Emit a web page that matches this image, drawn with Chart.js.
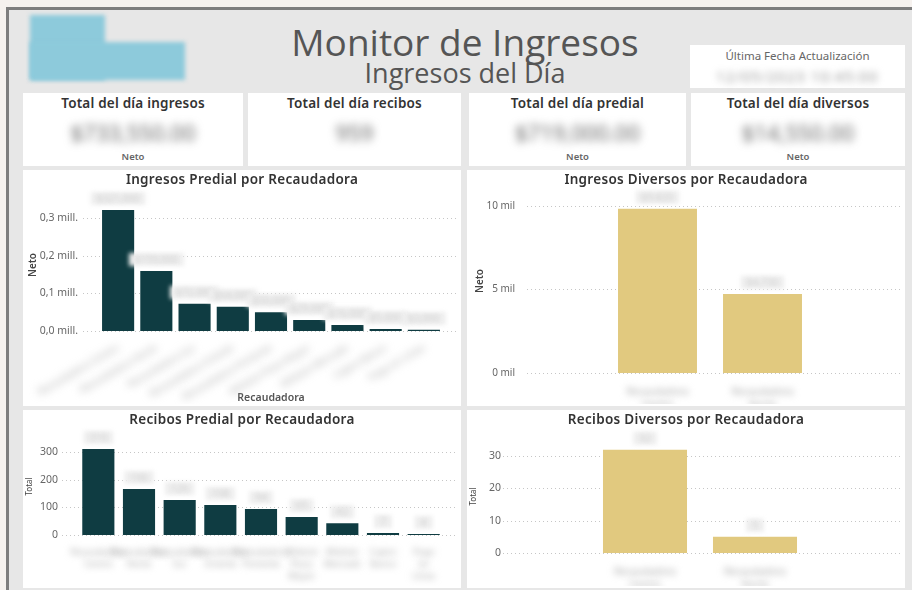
<!DOCTYPE html>
<html lang="es">
<head>
<meta charset="utf-8">
<title>Monitor de Ingresos</title>
<script src="https://cdn.jsdelivr.net/npm/chart.js@4.4.1/dist/chart.umd.min.js"></script>
<style>
    body { margin: 0; width: 912px; height: 590px; overflow: hidden; background: #f6f2ef; font-family: "Noto Sans", sans-serif; position: relative; }
    .abs { position: absolute; }
    #frame { left: 6px; top: 7px; width: 920px; height: 600px; border-left: 3px solid #7e7e7e; border-top: 3px solid #7e7e7e; background: #e7e7e7; }
    .logo { background: #8dcadb; filter: blur(2px); }
    #titulo { left: 215px; width: 500px; top: 19px; text-align: center; font-family: "Open Sans", sans-serif; font-size: 37px; color: #555; line-height: 46px; }
    #subtitulo { left: 265px; width: 400px; top: 55px; text-align: center; font-family: "Open Sans", sans-serif; font-size: 27px; color: #555; line-height: 36px; }
    #fecha { left: 690px; top: 45px; width: 215px; height: 43px; background: #fff; }
    #fecha .lbl { position: absolute; left: 0; width: 215px; top: 3px; text-align: center; font-size: 11.5px; color: #666; }
    #fecha .val { position: absolute; left: 26px; top: 21px; font-size: 15px; color: #999; filter: blur(3.5px); letter-spacing: 1px; }
    .card { background: #fff; top: 93px; height: 73px; }
    .card .t { position: absolute; left: 0; right: 0; top: 1px; text-align: center; font-size: 13.5px; font-weight: 600; color: #333; letter-spacing: 0.2px; }
    .card .v { position: absolute; left: 0; right: 0; top: 24px; text-align: center; font-size: 22px; color: #666; filter: blur(4.5px); }
    .card .n { position: absolute; left: 0; right: 0; top: 57px; text-align: center; font-size: 9.5px; font-weight: 600; color: #666; }
    .panel { background: #fff; }
    .panel .t { position: absolute; left: 0; right: 0; top: 0; text-align: center; font-size: 13.5px; font-weight: 600; color: #333; letter-spacing: 0.3px; z-index: 2; }
    .panel canvas { position: absolute; left: 0; top: 0; }
</style>
</head>
<body>
<div id="frame" class="abs"></div>
<div class="abs logo" style="left:30px; top:15px; width:75px; height:65px;"></div>
<div class="abs logo" style="left:30px; top:42px; width:155px; height:38px;"></div>
<div id="titulo" class="abs">Monitor de Ingresos</div>
<div id="subtitulo" class="abs">Ingresos del Día</div>
<div id="fecha" class="abs"><div class="lbl">Última Fecha Actualización</div><div class="val">12/05/2023 10:45:00</div></div>

<div class="abs card" style="left:23px; width:220px;"><div class="t">Total del día ingresos</div><div class="v">$733,550.00</div><div class="n">Neto</div></div>
<div class="abs card" style="left:248px; width:213px;"><div class="t">Total del día recibos</div><div class="v">959</div></div>
<div class="abs card" style="left:469px; width:217px;"><div class="t">Total del día predial</div><div class="v">$719,000.00</div><div class="n">Neto</div></div>
<div class="abs card" style="left:691px; width:214px;"><div class="t">Total del día diversos</div><div class="v">$14,550.00</div><div class="n">Neto</div></div>

<div class="abs panel" style="left:23px; top:170px; width:438px; height:236px;">
    <div class="t">Ingresos Predial por Recaudadora</div>
    <canvas id="chartIngresosPredial" width="438" height="236"></canvas>
</div>
<div class="abs panel" style="left:467px; top:170px; width:438px; height:236px;">
    <div class="t">Ingresos Diversos por Recaudadora</div>
    <canvas id="chartIngresosDiversos" width="438" height="236"></canvas>
</div>
<div class="abs panel" style="left:23px; top:410px; width:438px; height:178px;">
    <div class="t">Recibos Predial por Recaudadora</div>
    <canvas id="chartRecibosPredial" width="438" height="178"></canvas>
</div>
<div class="abs panel" style="left:467px; top:410px; width:438px; height:178px;">
    <div class="t">Recibos Diversos por Recaudadora</div>
    <canvas id="chartRecibosDiversos" width="438" height="178"></canvas>
</div>

<script>
const recaudadorasPredial = [
    'Recaudadora Centro', 'Recaudadora Norte', 'Recaudadora Sur',
    'Recaudadora Oriente', 'Recaudadora Poniente', 'Módulo Plaza Mayor',
    'Módulo Mercado', 'Cajero Banco', 'Pago en Línea'
];
const netoPredial = [321000, 159000, 72000, 64000, 50000, 29000, 16000, 5000, 3000];
const recibosPredial = [310, 166, 126, 108, 94, 65, 42, 7, 4];

const recaudadorasDiversos = ['Recaudadora Centro', 'Recaudadora Norte'];
const netoDiversos = [9820, 4730];
const recibosDiversos = [32, 5];

const COLOR_PREDIAL = '#0f3c42';
const COLOR_DIVERSOS = '#e1c97f';

Chart.defaults.font.family = '"Noto Sans", sans-serif';
Chart.defaults.animation = false;

// Lineas punteadas, etiquetas de datos difuminadas y etiquetas del eje X difuminadas
const blurPlugin = {
    id: 'blurLabels',
    beforeDatasetsDraw(chart, args, opts) {
        const y = chart.scales.y;
        const ctx = chart.ctx;
        ctx.save();
        ctx.strokeStyle = '#c6c6c6';
        ctx.lineWidth = 1;
        ctx.setLineDash([1, 3]);
        y.ticks.forEach(t => {
            const py = Math.round(y.getPixelForValue(t.value)) + 0.5;
            ctx.beginPath();
            ctx.moveTo(opts.gridFrom, py);
            ctx.lineTo(opts.gridTo, py);
            ctx.stroke();
        });
        ctx.restore();
    },
    afterDatasetsDraw(chart, args, opts) {
        const ctx = chart.ctx;
        const meta = chart.getDatasetMeta(0);
        const data = chart.data.datasets[0].data;
        ctx.save();
        ctx.filter = 'blur(2px)';
        ctx.font = '10px "Noto Sans"';
        ctx.textAlign = 'center';
        ctx.textBaseline = 'middle';
        meta.data.forEach((bar, i) => {
            const txt = opts.format(data[i]);
            const w = ctx.measureText(txt).width + 12;
            ctx.fillStyle = '#eeeeee';
            ctx.fillRect(bar.x - w / 2, bar.y - 18, w, 13);
            ctx.fillStyle = '#d2d2d2';
            ctx.fillText(txt, bar.x, bar.y - 11);
        });
        ctx.restore();
        // las etiquetas del eje X (z: 1) se dibujan difuminadas
        ctx.save();
        ctx.filter = 'blur(' + opts.tickBlur + 'px)';
    },
    afterDraw(chart) {
        chart.ctx.restore();
    }
};

function toLines(label) {
    return label.split(' ');
}

function createBarChart(canvasId, cfg) {
    const ctx = document.getElementById(canvasId);
    return new Chart(ctx, {
        type: 'bar',
        data: {
            labels: cfg.labels,
            datasets: [{
                data: cfg.data,
                backgroundColor: cfg.color,
                barPercentage: cfg.barPercentage,
                categoryPercentage: 1
            }]
        },
        plugins: [blurPlugin],
        options: {
            responsive: false,
            layout: { padding: cfg.padding },
            scales: {
                x: {
                    grid: { display: false },
                    border: { display: false },
                    afterFit: s => {
                        s.height = cfg.xHeight;
                        s.paddingLeft = 0;
                        s.paddingRight = 0;
                    },
                    ticks: {
                        z: 1,
                        autoSkip: false,
                        minRotation: cfg.rotation,
                        maxRotation: cfg.rotation,
                        padding: cfg.xPadding,
                        color: '#a8a8a8',
                        font: { size: cfg.xFont, lineHeight: 1.3 },
                        callback: cfg.xCallback
                    },
                    title: cfg.xTitle ? {
                        display: true,
                        text: cfg.xTitle,
                        color: '#555',
                        font: { size: 10.5, weight: '600' },
                        padding: 0
                    } : { display: false }
                },
                y: {
                    min: 0,
                    max: cfg.max,
                    grid: { display: false },
                    border: { display: false },
                    afterBuildTicks: s => {
                        const ticks = [];
                        for (let v = 0; v <= cfg.max; v += cfg.step) ticks.push({ value: v });
                        s.ticks = ticks;
                    },
                    afterFit: s => {
                        s.width = cfg.yWidth;
                        s.paddingTop = 0;
                        s.paddingBottom = 0;
                    },
                    ticks: {
                        padding: cfg.yPadding,
                        color: '#666',
                        font: { size: cfg.yFont },
                        callback: cfg.yCallback
                    },
                    title: {
                        display: true,
                        text: cfg.yTitle,
                        color: '#444',
                        font: { size: cfg.yTitleFont, weight: cfg.yTitleWeight },
                        padding: { top: cfg.yTitlePad, bottom: 0 }
                    }
                }
            },
            plugins: {
                legend: { display: false },
                title: { display: false },
                tooltip: { enabled: false },
                blurLabels: {
                    gridFrom: cfg.gridFrom,
                    gridTo: cfg.gridTo,
                    tickBlur: cfg.tickBlur,
                    format: cfg.format
                }
            }
        }
    });
}

const pesos = v => '$' + v.toLocaleString('en-US');
const labelOf = function(v) { return this.getLabelForValue(v); };
const lines = function(v) { return toLines(this.getLabelForValue(v)); };
const plainNumber = v => String(v);

createBarChart('chartIngresosPredial', {
    labels: recaudadorasPredial, data: netoPredial, color: COLOR_PREDIAL,
    barPercentage: 0.84, padding: { top: 29, left: 2, right: 18, bottom: 2 },
    xHeight: 73, rotation: 30, xPadding: 3, xFont: 9.5, xCallback: labelOf,
    xTitle: 'Recaudadora',
    max: 350000, step: 100000, yWidth: 74, yPadding: 13, yFont: 10.5,
    yCallback: v => (v / 1e6).toFixed(1).replace('.', ',') + ' mill.',
    yTitle: 'Neto', yTitleFont: 10, yTitleWeight: '600', yTitlePad: 2,
    gridFrom: 60, gridTo: 435, tickBlur: 4, format: pesos
});

createBarChart('chartIngresosDiversos', {
    labels: recaudadorasDiversos, data: netoDiversos, color: COLOR_DIVERSOS,
    barPercentage: 0.752, padding: { top: 19, left: 2, right: 90, bottom: 2 },
    xHeight: 31, rotation: 0, xPadding: 5, xFont: 10, xCallback: lines,
    max: 11000, step: 5000, yWidth: 136, yPadding: 82, yFont: 10,
    yCallback: v => (v / 1000) + ' mil',
    yTitle: 'Neto', yTitleFont: 10, yTitleWeight: '600', yTitlePad: 5,
    gridFrom: 60, gridTo: 433, tickBlur: 3.5, format: pesos
});

createBarChart('chartRecibosPredial', {
    labels: recaudadorasPredial, data: recibosPredial, color: COLOR_PREDIAL,
    barPercentage: 0.79, padding: { top: 28, left: 2, right: 17, bottom: 2 },
    xHeight: 51, rotation: 0, xPadding: 4, xFont: 9, xCallback: lines,
    max: 350, step: 100, yWidth: 53, yPadding: 12, yFont: 10.5, yCallback: plainNumber,
    yTitle: 'Total', yTitleFont: 8, yTitleWeight: '400', yTitlePad: 0,
    gridFrom: 39, gridTo: 435, tickBlur: 3.5, format: plainNumber
});

createBarChart('chartRecibosDiversos', {
    labels: recaudadorasDiversos, data: recibosDiversos, color: COLOR_DIVERSOS,
    barPercentage: 0.764, padding: { top: 30, left: 2, right: 95, bottom: 2 },
    xHeight: 33, rotation: 0, xPadding: 5, xFont: 10, xCallback: lines,
    max: 35, step: 10, yWidth: 121, yPadding: 81, yFont: 10.5, yCallback: plainNumber,
    yTitle: 'Total', yTitleFont: 8, yTitleWeight: '400', yTitlePad: 0,
    gridFrom: 36, gridTo: 433, tickBlur: 3.5, format: plainNumber
});
</script>
</body>
</html>
